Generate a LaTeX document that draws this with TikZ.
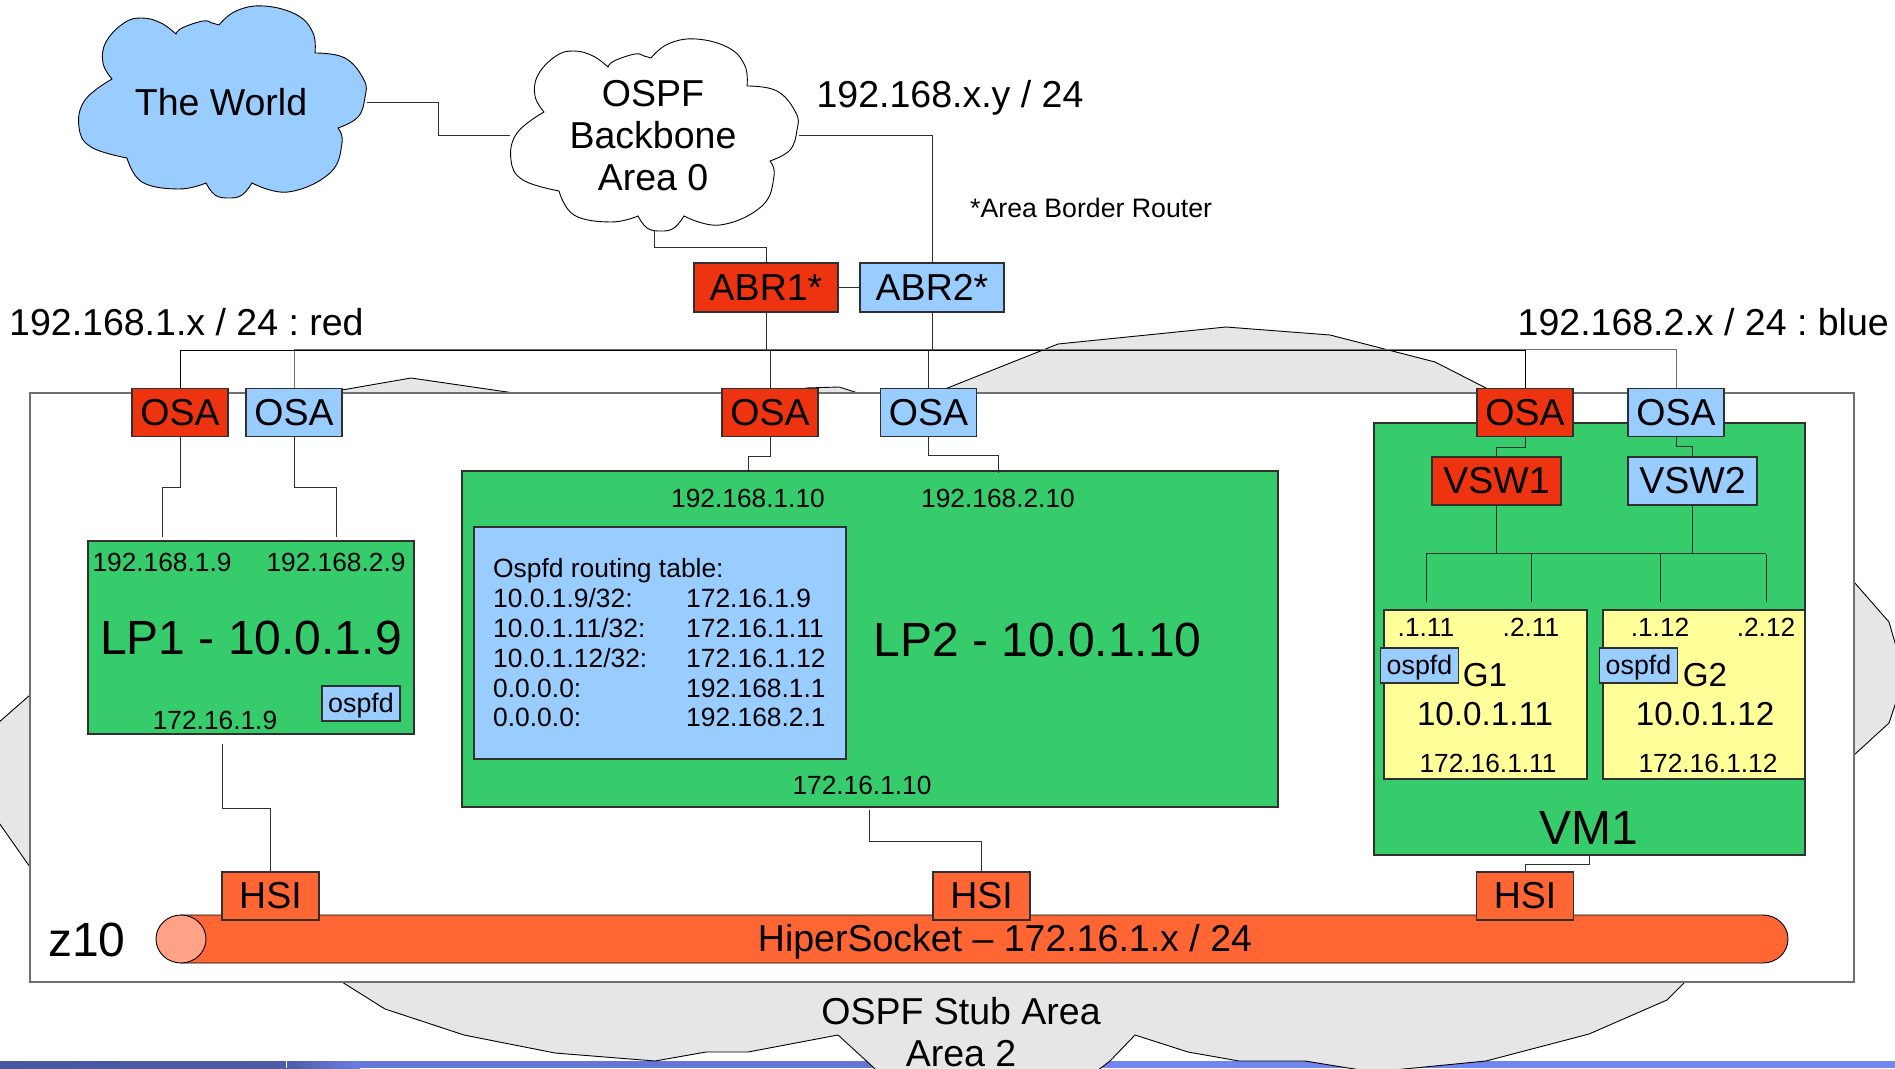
\documentclass[tikz,border=0pt]{standalone}
\usepackage{fontspec}
\setmainfont{Liberation Sans}
\frenchspacing
\definecolor{cred}{HTML}{EE3311}
\definecolor{cblue}{HTML}{99CCFF}
\definecolor{cgreen}{HTML}{36CC6B}
\definecolor{cyel}{HTML}{FFFF99}
\definecolor{corange}{HTML}{FF6633}
\definecolor{clight}{HTML}{FFA285}
\definecolor{cgrey}{HTML}{E6E6E6}
\definecolor{cedge}{HTML}{303030}
\definecolor{cframe}{HTML}{707070}
\newcommand{\cloudshape}{
  plot[smooth,tension=0.7] coordinates {(112,79)(103,63)(106,42)(124,23)(142,18)(161,23)(176,34)}
  -- plot[smooth,tension=0.7] coordinates {(176,34)(182,28)(203,21)(212,23)(219,25)}
  -- plot[smooth,tension=0.7] coordinates {(219,25)(236,11)(264,6)(297,15)(313,33)(315,53)}
  -- plot[smooth,tension=0.7] coordinates {(315,53)(345,58)(364,80)(365,97)(358,117)(338,128)}
  -- plot[smooth,tension=0.7] coordinates {(338,128)(342,143)(330,173)(288,192)(252,183)}
  -- plot[smooth,tension=0.7] coordinates {(252,183)(242,195)(229,198)(215,195)(206,183)}
  -- plot[smooth,tension=0.7] coordinates {(206,183)(179,189)(142,182)(127,158)}
  -- plot[smooth,tension=0.7] coordinates {(127,158)(91,147)(79,127)(85,100)(112,79)}
  -- cycle}
\tikzset{
  outline/.style={draw=black,line width=0.9pt},
  box/.style={draw=cedge,line width=1.1pt,inner sep=0pt,text=black},
  osabox/.style={box,minimum width=96pt,minimum height=48pt,font=\fontsize{37.5}{42}\selectfont},
  redfill/.style={fill=cred},
  bluefill/.style={fill=cblue},
  hsibox/.style={box,fill=corange,minimum width=97pt,minimum height=48pt,font=\fontsize{37.5}{42}\selectfont},
  swbox/.style={box,minimum width=129pt,minimum height=48pt,font=\fontsize{37.5}{42}\selectfont},
  ospfdbox/.style={box,fill=cblue,minimum width=78pt,minimum height=35pt,text height=20pt,text depth=2pt,font=\fontsize{26.8}{30}\selectfont},
  small/.style={inner sep=0pt,font=\fontsize{26.3}{30}\selectfont},
  mid/.style={inner sep=0pt,font=\fontsize{33.2}{38}\selectfont},
  large/.style={inner sep=0pt,align=center,font=\fontsize{37.5}{42}\selectfont},
  huge/.style={inner sep=0pt,font=\fontsize{48}{54}\selectfont},
  conn/.style={draw=cedge,line width=1pt},
  greybus/.style={draw=cframe,line width=1pt},
}
\begin{document}
\begin{tikzpicture}[x=1pt,y=-1pt]
\clip (0,0) rectangle (1895,1068);
% bottom strip
\fill[left color={rgb,255:red,72;green,88;blue,160},right color={rgb,255:red,78;green,92;blue,165}] (0,1061) rectangle (286,1068);
\fill[left color={rgb,255:red,78;green,92;blue,165},right color={rgb,255:red,108;green,125;blue,225}] (286,1061) rectangle (360,1068);
\fill[fill={rgb,255:red,100;green,118;blue,215}] (360,1061) rectangle (900,1068);
\fill[fill={rgb,255:red,112;green,133;blue,240}] (900,1061) rectangle (1895,1068);
\draw[white,line width=1pt] (286,1061) -- (286,1068);
% stub area cloud
\draw[fill=cgrey,draw=black,line width=0.9pt]
 (342,390) -- (411,378) -- (514,393) -- (514,395) -- (800,395) -- (806,388) -- (839,387) -- (858,393) -- (858,395) -- (930,395) -- (950,387)
 -- (1058,344) -- (1226,327) -- (1330,335) -- (1435,362) -- (1486,388) -- (1500,400) -- (1800,400)
 -- (1854,582) -- (1889,622) -- (1900,660) -- (1900,690) -- (1889,723) -- (1854,755)
 -- (1685,982) -- (1667,1000) -- (1589,1034) -- (1486,1061) -- (1373,1072)
 -- (1305,1061) -- (1239,1061) -- (1188,1052) -- (1135,1035) -- (1110,1061) -- (1085,1080)
 -- (885,1080) -- (873,1067) -- (838,1035) -- (748,1052) -- (706,1052) -- (655,1061)
 -- (555,1053) -- (464,1035) -- (385,1009) -- (342,982)
 -- (30,867) -- (-10,810) -- (-10,730) -- (30,695) -- cycle;
% frame
\draw[fill=white,draw=cframe,line width=1.5pt] (30,393) rectangle (1854,982);
\node[large] (stub) at (961,1032) {OSPF Stub Area\\Area 2};
% clouds
\draw[fill=cblue,outline] \cloudshape;
\node[large] (world) at (221,102) {The World};
\begin{scope}[shift={(432,33)}]
\draw[fill=white,outline] \cloudshape;
\end{scope}
\node[large] (backbone) at (653,136) {OSPF\\Backbone\\Area 0};
\coordinate (worldR) at (367,102);
\coordinate (backL) at (510,135);
\coordinate (backR) at (799,135);
\coordinate (backB) at (654.5,230);
% texts
\node[large,anchor=west] (t1) at (9,322) {192.168.1.x / 24 : red};
\node[large,anchor=east] (t2) at (1889,322) {192.168.2.x / 24 : blue};
\node[large] (t3) at (950,98) {192.168.x.y / 24};
\node[small,font=\fontsize{26.7}{30}\selectfont,anchor=west] (t4) at (970,208) {*Area Border Router};
% main boxes
\node[box,fill=cgreen,minimum width=326pt,minimum height=193pt] (lp1) at (251,637.5) {};
\node[box,fill=cgreen,minimum width=816pt,minimum height=336pt] (lp2) at (870,639) {};
\node[box,fill=cgreen,minimum width=431pt,minimum height=432pt] (vm1) at (1589.5,639) {};
\node[box,fill=cblue,minimum width=372pt,minimum height=232pt] (table) at (660,643) {};
\node[box,fill=cyel,minimum width=203pt,minimum height=169pt] (g1) at (1485.5,694.5) {};
\node[box,fill=cyel,minimum width=202pt,minimum height=169pt] (g2) at (1704,694.5) {};
% OSA / ABR
\node[osabox,redfill,minimum width=144pt,minimum height=49pt] (abr1) at (766,287.5) {ABR1*};
\node[osabox,bluefill,minimum width=144pt,minimum height=49pt] (abr2) at (932,287.5) {ABR2*};
\node[osabox,redfill] (osaR1) at (180,412.5) {OSA};
\node[osabox,bluefill] (osaB1) at (294,412.5) {OSA};
\node[osabox,redfill] (osaR2) at (770,412.5) {OSA};
\node[osabox,bluefill] (osaB2) at (928.5,412.5) {OSA};
\node[osabox,redfill] (osaR3) at (1525,412.5) {OSA};
\node[osabox,bluefill] (osaB3) at (1676,412.5) {OSA};
\node[swbox,redfill] (vsw1) at (1496.5,481) {VSW1};
\node[swbox,bluefill] (vsw2) at (1692.5,481) {VSW2};
% hipersocket
\draw[fill=corange,outline] (181,915) -- (1763,915) .. controls (1777,915) and (1788,926) .. (1788,939) .. controls (1788,952) and (1777,963) .. (1763,963) -- (181,963) -- cycle;
\draw[fill=clight,outline] (181,939) ellipse [x radius=25,y radius=24];
\node[large] (hiper) at (1005,941.5) {HiperSocket – 172.16.1.x / 24};
\node[hsibox] (hsi1) at (270.5,896) {HSI};
\node[hsibox] (hsi2) at (981.5,896) {HSI};
\node[hsibox] (hsi3) at (1525,896) {HSI};
\node[huge] (z10) at (87,940) {z10};
% labels in LP1
\node[small] (l1a) at (162,562) {192.168.1.9};
\node[small] (l1b) at (336,562) {192.168.2.9};
\node[huge] (l1) at (251,638) {LP1 - 10.0.1.9};
\node[small] (l1c) at (215,720) {172.16.1.9};
\node[ospfdbox] (o1) at (361,703.5) {ospfd};
% LP2
\node[small] (l2a) at (748,498) {192.168.1.10};
\node[small] (l2b) at (998,498) {192.168.2.10};
\node[huge] (l2) at (1037.5,640) {LP2 - 10.0.1.10};
\node[small] (l2c) at (862,785) {172.16.1.10};
\node[inner sep=0pt,anchor=north west,align=left,font=\fontsize{26.4}{29.8}\selectfont] (tabL) at (493,558.5) {Ospfd routing table:\\10.0.1.9/32:\\10.0.1.11/32:\\10.0.1.12/32:\\0.0.0.0:\\0.0.0.0:};
\node[inner sep=0pt,anchor=north west,align=left,font=\fontsize{26.4}{29.8}\selectfont] (tabR) at (686,589) {172.16.1.9\\172.16.1.11\\172.16.1.12\\192.168.1.1\\192.168.2.1};
% VM1
\node[huge] (vmlab) at (1589,828) {VM1};
\node[small] (g1a) at (1426,627) {.1.11};
\node[small] (g1b) at (1531,627) {.2.11};
\node[small] (g2a) at (1660,627) {.1.12};
\node[small] (g2b) at (1766,627) {.2.12};
\node[ospfdbox] (o2) at (1419.5,665.5) {ospfd};
\node[ospfdbox] (o3) at (1638.5,665.5) {ospfd};
\node[mid] (g1t) at (1485,675) {G1};
\node[mid] (g2t) at (1705,675) {G2};
\node[mid] (g1i) at (1485,714) {10.0.1.11};
\node[mid] (g2i) at (1705,714) {10.0.1.12};
\node[small] (g1c) at (1488,763) {172.16.1.11};
\node[small] (g2c) at (1708,763) {172.16.1.12};
% free ends
\coordinate (busR3) at (1525,350.5);
\coordinate (busB3) at (1676,349.5);
\coordinate (in1a) at (162,537);
\coordinate (in1b) at (336,537);
\coordinate (in2a) at (748,471);
\coordinate (in2b) at (998,473);
\coordinate (out1) at (222,744);
\coordinate (out2) at (869,810);
\coordinate (hubL) at (1426,553.5);
\coordinate (hubR) at (1766,553.5);
\coordinate (d1) at (1426,602);
\coordinate (d2) at (1531,602);
\coordinate (d3) at (1660,602);
\coordinate (d4) at (1766,602);
% connectors
\draw[conn] (worldR) -- (438,102) |- (backL);
\draw[conn] (backR) -| (abr2.north);
\draw[conn] (backB) |- (766,247) -- (abr1.north);
\draw[conn] (abr1.east) -- (abr2.west);
\draw[greybus] (osaB1.north) |- (busB3) -- (osaB3.north);
\draw[conn,draw=black] (osaR1.north) |- (busR3) -- (osaR3.north);
\draw[conn] (abr1.south) -- (abr1.south |- busR3);
\draw[conn] (abr2.south) -- (abr2.south |- busR3);
\draw[conn] (osaR2.north) -- (osaR2.north |- busR3);
\draw[conn] (osaB2.north) -- (osaB2.north |- busR3);
\draw[conn] (osaR1.south) -- (180,487) -| (in1a);
\draw[conn] (osaB1.south) -- (294,487) -| (in1b);
\draw[conn] (osaR2.south) -- (770,456) -| (in2a);
\draw[conn] (osaB2.south) -- (928.5,455) -| (in2b);
\draw[conn] (osaR3.south) -- (1525,447) -| (vsw1.north);
\draw[conn] (osaB3.south) -- (1676,446) -| (vsw2.north);
\draw[conn] (out1) -- (222,808) -| (hsi1.north);
\draw[conn] (out2) -- (869,841) -| (hsi2.north);
\draw[conn] (vm1.south) -- (1589.5,864) -| (hsi3.north);
\draw[conn] (hubL) -- (hubR);
\draw[conn] (vsw1.south) -- (vsw1.south |- hubL);
\draw[conn] (vsw2.south) -- (vsw2.south |- hubL);
\draw[conn] (hubL) -- (d1);
\draw[conn] (d2 |- hubL) -- (d2);
\draw[conn] (d3 |- hubL) -- (d3);
\draw[conn] (hubR) -- (d4);
\end{tikzpicture}
\end{document}
